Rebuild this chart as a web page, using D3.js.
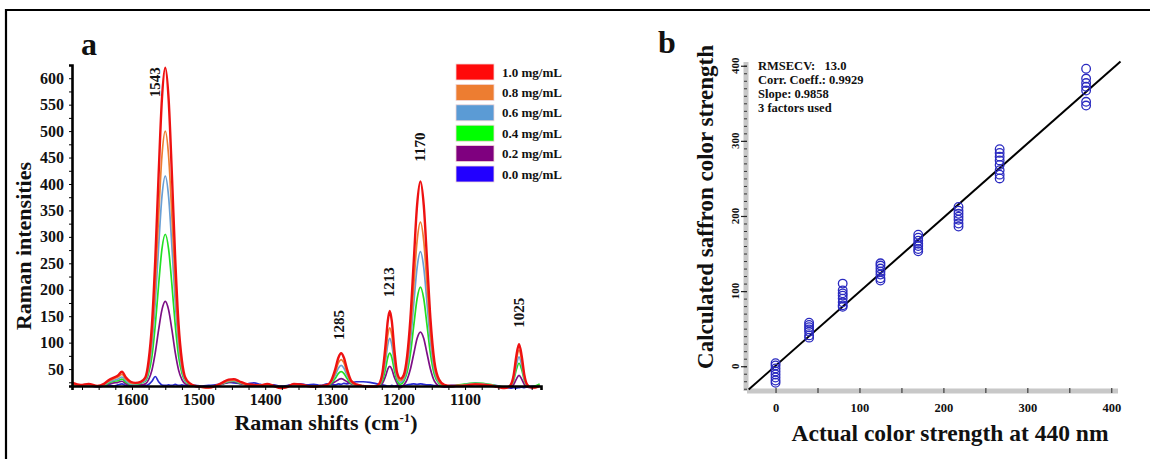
<!DOCTYPE html>
<html lang="en">
<head>
<meta charset="UTF-8">
<title>Raman spectra and calibration</title>
<script src="https://cdn.jsdelivr.net/npm/d3@7"></script>
<style>
    body { margin: 0; background: #fff; }
    svg { display: block; font-family: "Liberation Serif", "Times New Roman", serif; font-weight: bold; }
    .lbl { fill: #111; }
</style>
</head>
<body>
<svg id="canvas" width="1150" height="459"></svg>
<script>
// ---- panel a : Raman spectra ----
const wavenumbers = [1689, 1677, 1665, 1652, 1642, 1634, 1627, 1621, 1615, 1609, 1602, 1595,
    1587, 1580, 1575, 1570, 1565, 1560, 1555, 1550, 1545, 1540, 1535, 1530, 1525, 1520, 1513, 1505,
    1495, 1485, 1475, 1465, 1455, 1447, 1439, 1429, 1417, 1407, 1397, 1387, 1377, 1367, 1357, 1347, 1337, 1327, 1317, 1307,
    1301, 1295, 1290, 1286, 1282, 1277, 1271, 1263, 1253, 1243, 1235, 1229,
    1224, 1219, 1216, 1213, 1210, 1206, 1202,
    1197, 1192, 1187, 1182, 1177, 1172, 1167, 1162, 1157, 1152, 1146, 1139, 1131, 1121,
    1109, 1097, 1085, 1073, 1063, 1055, 1047, 1041,
    1035, 1031, 1027, 1023, 1019, 1015, 1011, 1007, 1002, 995, 988];

const conc10 = [24, 20, 22, 18, 22, 30, 34, 38, 45, 34, 26, 24,
    26, 34, 66, 134, 257, 417, 561, 620, 561, 417, 257, 134, 66, 34, 23, 18,
    16, 15, 18, 24, 30, 31, 27, 22, 20, 19, 22, 18, 14, 16, 22, 21, 18, 17, 18, 20,
    28, 49, 72, 80, 72, 49, 28, 21, 18, 17, 17, 22,
    43, 100, 141, 160, 141, 85, 43,
    32, 39, 74, 146, 254, 360, 405, 360, 254, 146, 64, 30, 20, 18,
    18, 19, 21, 20, 19, 17, 15, 14,
    16, 21, 39, 75, 97, 75, 39, 21, 16, 15, 18];
const conc08 = [22, 19, 21, 18, 21, 28, 32, 35, 40, 31, 24, 23,
    25, 32, 56, 111, 210, 338, 453, 500, 453, 338, 210, 111, 56, 32, 22, 18,
    16, 15, 18, 23, 28, 29, 26, 21, 20, 19, 21, 18, 15, 16, 21, 20, 18, 17, 18, 20,
    26, 43, 62, 68, 62, 43, 26, 20, 18, 17, 17, 21,
    38, 81, 114, 128, 114, 70, 38,
    28, 35, 62, 121, 207, 292, 328, 292, 207, 121, 55, 27, 19, 18,
    19, 20, 22, 21, 20, 18, 16, 15,
    16, 20, 35, 67, 86, 67, 35, 20, 16, 15, 18];
const conc06 = [21, 19, 20, 17, 20, 26, 29, 31, 35, 28, 22, 22,
    24, 29, 50, 95, 176, 281, 376, 415, 376, 281, 176, 95, 50, 29, 22, 18,
    16, 16, 18, 22, 27, 28, 25, 21, 20, 19, 21, 18, 15, 16, 20, 20, 18, 17, 18, 19,
    25, 38, 52, 57, 52, 38, 25, 20, 18, 17, 17, 20,
    34, 69, 96, 108, 96, 60, 34,
    25, 31, 54, 102, 173, 242, 272, 242, 173, 102, 48, 25, 19, 18,
    19, 21, 23, 22, 20, 18, 16, 15,
    16, 19, 32, 57, 73, 57, 32, 19, 16, 16, 19];
const conc04 = [20, 18, 20, 17, 19, 24, 27, 28, 31, 25, 21, 21,
    23, 27, 42, 74, 133, 209, 277, 305, 277, 209, 133, 74, 42, 27, 21, 18,
    16, 16, 18, 22, 26, 27, 24, 21, 20, 19, 20, 18, 16, 17, 20, 19, 18, 17, 18, 19,
    23, 32, 42, 45, 42, 32, 23, 20, 18, 16, 16, 19,
    28, 53, 72, 80, 72, 47, 28,
    21, 27, 44, 79, 132, 183, 205, 183, 132, 79, 39, 23, 18, 17,
    20, 22, 24, 23, 21, 19, 17, 16,
    16, 19, 29, 49, 61, 49, 29, 19, 16, 18, 22];
const conc02 = [20, 18, 19, 16, 18, 22, 24, 25, 27, 22, 20, 20,
    20, 22, 30, 48, 81, 124, 162, 178, 162, 124, 81, 48, 30, 22, 19, 17,
    16, 16, 18, 21, 25, 26, 23, 20, 19, 19, 20, 18, 16, 17, 19, 19, 18, 17, 18, 19,
    22, 26, 30, 32, 30, 26, 22, 20, 18, 16, 16, 18,
    23, 38, 50, 55, 50, 34, 23,
    15, 20, 30, 50, 79, 108, 120, 108, 79, 50, 27, 18, 16, 16,
    19, 21, 22, 21, 20, 18, 16, 15,
    15, 16, 21, 31, 38, 31, 21, 16, 15, 16, 18];
const conc00 = [22, 19, 18, 17, 18, 20, 18, 20, 22, 19, 20, 21,
    20, 19, 21, 27, 36, 26, 20, 19, 20, 19, 21, 19, 20, 19, 20, 19,
    18, 19, 20, 22, 25, 24, 23, 22, 24, 21, 19, 20, 18, 19, 21, 22, 20, 21, 19, 22,
    21, 20, 22, 21, 23, 22, 24, 26, 26, 25, 23, 21,
    20, 19, 18, 18, 19, 18, 19,
    18, 19, 20, 21, 22, 21, 22, 21, 20, 20, 19, 18, 18, 19,
    19, 20, 21, 20, 19, 19, 17, 15,
    15, 14, 15, 14, 15, 16, 15, 16, 17, 18, 18];

const seriesNames = ["1.0 mg/mL", "0.8 mg/mL", "0.6 mg/mL", "0.4 mg/mL", "0.2 mg/mL", "0.0 mg/mL"];
const seriesValues = [conc10, conc08, conc06, conc04, conc02, conc00];
const seriesColors = ["#ee1111", "#ed7d31", "#6a9fd4", "#22e022", "#7d0f86", "#2a2ad0"];
const swatchColors = ["#ff0a0a", "#ed7d31", "#5b9bd5", "#00ff00", "#7f007f", "#2200ff"];

// peak labels: text, wavenumber of label centre, intensity at label foot
const peakLabels = ["1543", "1285", "1213", "1170", "1025"];
const peakPos = [1565, 1289, 1214, 1167, 1019];
const peakFoot = [564, 105, 186, 442, 128];

const xTicksA = [1600, 1500, 1400, 1300, 1200, 1100];
const yTicksA = [50, 100, 150, 200, 250, 300, 350, 400, 450, 500, 550, 600];

// ---- panel b : calibration ----
const actual = [0, 40, 80, 125, 170, 218, 267, 370];
const predicted = [
    [4, 1, -3, -7, -11, -15, -19, -22],
    [58, 55, 52, 49, 46, 41, 38],
    [110, 101, 97, 94, 90, 85, 81, 79],
    [137, 134, 130, 126, 122, 117, 114],
    [175, 171, 167, 163, 160, 156, 153],
    [212, 207, 203, 199, 195, 190, 186],
    [289, 284, 279, 274, 268, 261, 255, 250],
    [396, 383, 377, 372, 367, 352, 347]
];
const fitSlope = 0.9858, fitIntercept = 0.5, fitRange = [-32, 411];
const stats = ["RMSECV:   13.0", "Corr. Coeff.: 0.9929", "Slope: 0.9858", "3 factors used"];
const xTicksB = [0, 100, 200, 300, 400];
const yTicksB = [0, 100, 200, 300, 400];

let svg = d3.select('#canvas');

// frame (only top and left visible in the crop)
svg.append('path').attr('d', 'M6,459V10H1150').attr('fill', 'none')
    .attr('stroke', '#000').attr('stroke-width', 2.2);

// ======== panel a ========
let xa = d3.scaleLinear().domain([1690, 986]).range([72, 541]);
let ya = d3.scaleLinear().domain([18, 625]).range([386, 65]);

let gA = svg.append('g');

// spectra, drawn from blank upward so red is on top
let line = d3.line()
    .x((d, i) => xa(wavenumbers[i]))
    .y(d => ya(d))
    .curve(d3.curveMonotoneX);

for (let k = seriesValues.length - 1; k >= 0; k--) {
    gA.append('path')
        .datum(seriesValues[k])
        .attr('d', line)
        .attr('fill', 'none')
        .attr('stroke', seriesColors[k])
        .attr('stroke-width', k === 0 ? 2.4 : 1.7)
        .attr('stroke-linejoin', 'round');
}

// axes
let xAxisA = gA.append('g').attr('transform', 'translate(0,386)')
    .call(d3.axisBottom(xa).tickValues(d3.range(1675, 990, -25)).tickSize(4).tickFormat(''));
xAxisA.append('g').call(d3.axisBottom(xa).tickValues(xTicksA).tickSize(0).tickPadding(8).tickFormat(d3.format('d')))
    .call(g => g.select('.domain').remove());
xAxisA.select('.domain').attr('stroke-width', 2.6);
xAxisA.selectAll('text').attr('font-size', 16).attr('font-family', 'Liberation Serif')
    .attr('font-weight', 'bold').attr('fill', '#111');

let yAxisA = gA.append('g').attr('transform', 'translate(72,0)')
    .call(d3.axisLeft(ya).tickValues(d3.range(25, 626, 25)).tickSize(3).tickFormat(''));
yAxisA.append('g').call(d3.axisLeft(ya).tickValues(yTicksA).tickSize(0).tickPadding(8).tickFormat(d3.format('d')))
    .call(g => g.select('.domain').remove());
yAxisA.select('.domain').attr('stroke-width', 2.6);
yAxisA.selectAll('text').attr('font-size', 16).attr('font-family', 'Liberation Serif')
    .attr('font-weight', 'bold').attr('fill', '#111');

// peak labels
peakLabels.forEach((t, i) => {
    gA.append('text').attr('class', 'lbl')
        .attr('transform', `translate(${xa(peakPos[i]) + 5},${ya(peakFoot[i])}) rotate(-90)`)
        .attr('font-size', 15)
        .text(t);
});

// legend
seriesNames.forEach((n, i) => {
    let ly = 64 + i * 20.4;
    gA.append('rect').attr('x', 456).attr('y', ly).attr('width', 38).attr('height', 16)
        .attr('fill', swatchColors[i]).attr('stroke', '#f3d6d6').attr('stroke-width', 0.8);
    gA.append('text').attr('class', 'lbl').attr('x', 502).attr('y', ly + 12.5)
        .attr('font-size', 13).text(n);
});

// titles
svg.append('text').attr('class', 'lbl').attr('x', 81).attr('y', 55)
    .attr('font-size', 32).text('a');
svg.append('text').attr('class', 'lbl')
    .attr('transform', 'translate(31,246) rotate(-90)')
    .attr('text-anchor', 'middle').attr('font-size', 22).text('Raman intensities');
let xt = svg.append('text').attr('class', 'lbl').attr('x', 326).attr('y', 430)
    .attr('text-anchor', 'middle').attr('font-size', 22);
xt.append('tspan').text('Raman shifts (cm');
xt.append('tspan').attr('dy', -8).attr('font-size', 13).text('-1');
xt.append('tspan').attr('dy', 8).text(')');

// ======== panel b ========
let xb = d3.scaleLinear().domain([-34, 408]).range([747, 1118]);
let yb = d3.scaleLinear().domain([-33, 405]).range([391, 62]);
let gB = svg.append('g');

// gray axis bands
gB.append('line').attr('x1', xb(-34)).attr('x2', xb(408)).attr('y1', 391).attr('y2', 391)
    .attr('stroke', '#c8c8c8').attr('stroke-width', 5);
gB.append('line').attr('x1', 746).attr('x2', 746).attr('y1', yb(-33)).attr('y2', yb(405))
    .attr('stroke', '#c8c8c8').attr('stroke-width', 5);

// tick marks
let xAxisB = gB.append('g').attr('transform', 'translate(0,393)')
    .call(d3.axisTop(xb).tickValues(d3.range(0, 401, 50)).tickSize(5).tickFormat(''));
xAxisB.select('.domain').remove();
xAxisB.selectAll('line').attr('stroke', '#222').attr('stroke-width', 1);
let xLabB = gB.append('g').attr('transform', 'translate(0,391)')
    .call(d3.axisBottom(xb).tickValues(xTicksB).tickSize(0).tickPadding(12));
xLabB.select('.domain').remove();
xLabB.selectAll('text').attr('font-size', 12.5).attr('font-family', 'Liberation Serif')
    .attr('font-weight', 'bold').attr('fill', '#111');

let yAxisB = gB.append('g').attr('transform', 'translate(747,0)')
    .call(d3.axisLeft(yb).tickValues(d3.range(-30, 401, 10)).tickSize(3).tickFormat(''));
yAxisB.select('.domain').remove();
yAxisB.selectAll('line').attr('stroke', '#333').attr('stroke-width', 1);
gB.append('g').attr('transform', 'translate(747,0)')
    .call(d3.axisLeft(yb).tickValues(yTicksB).tickSize(6).tickFormat(''))
    .call(g => g.select('.domain').remove())
    .selectAll('line').attr('stroke', '#222').attr('stroke-width', 1.2);
yTicksB.forEach(v => {
    gB.append('text').attr('class', 'lbl')
        .attr('transform', `translate(739,${yb(v)}) rotate(-90)`)
        .attr('text-anchor', 'middle').attr('font-size', 11).text(v);
});

// fit line
gB.append('line')
    .attr('x1', xb(fitRange[0])).attr('y1', yb(fitSlope * fitRange[0] + fitIntercept))
    .attr('x2', xb(fitRange[1])).attr('y2', yb(fitSlope * fitRange[1] + fitIntercept))
    .attr('stroke', '#000').attr('stroke-width', 2);

// points
let pts = [];
actual.forEach((a, i) => predicted[i].forEach(p => pts.push([a, p])));
gB.selectAll('circle').data(pts).enter().append('circle')
    .attr('cx', d => xb(d[0])).attr('cy', d => yb(d[1])).attr('r', 4.3)
    .attr('fill', 'none').attr('stroke', '#2a2ac0').attr('stroke-width', 1.3);

// stats block
stats.forEach((s, i) => {
    gB.append('text').attr('class', 'lbl').attr('x', 758).attr('y', 70 + i * 14)
        .attr('font-size', 12.5).style('white-space', 'pre').text(s);
});

svg.append('text').attr('class', 'lbl').attr('x', 658).attr('y', 53)
    .attr('font-size', 32).text('b');
svg.append('text').attr('class', 'lbl')
    .attr('transform', 'translate(713,207) rotate(-90)')
    .attr('text-anchor', 'middle').attr('font-size', 23).text('Calculated saffron color strength');
svg.append('text').attr('class', 'lbl').attr('x', 950).attr('y', 441)
    .attr('text-anchor', 'middle').attr('font-size', 23.5).text('Actual color strength at 440 nm');
</script>
</body>
</html>
